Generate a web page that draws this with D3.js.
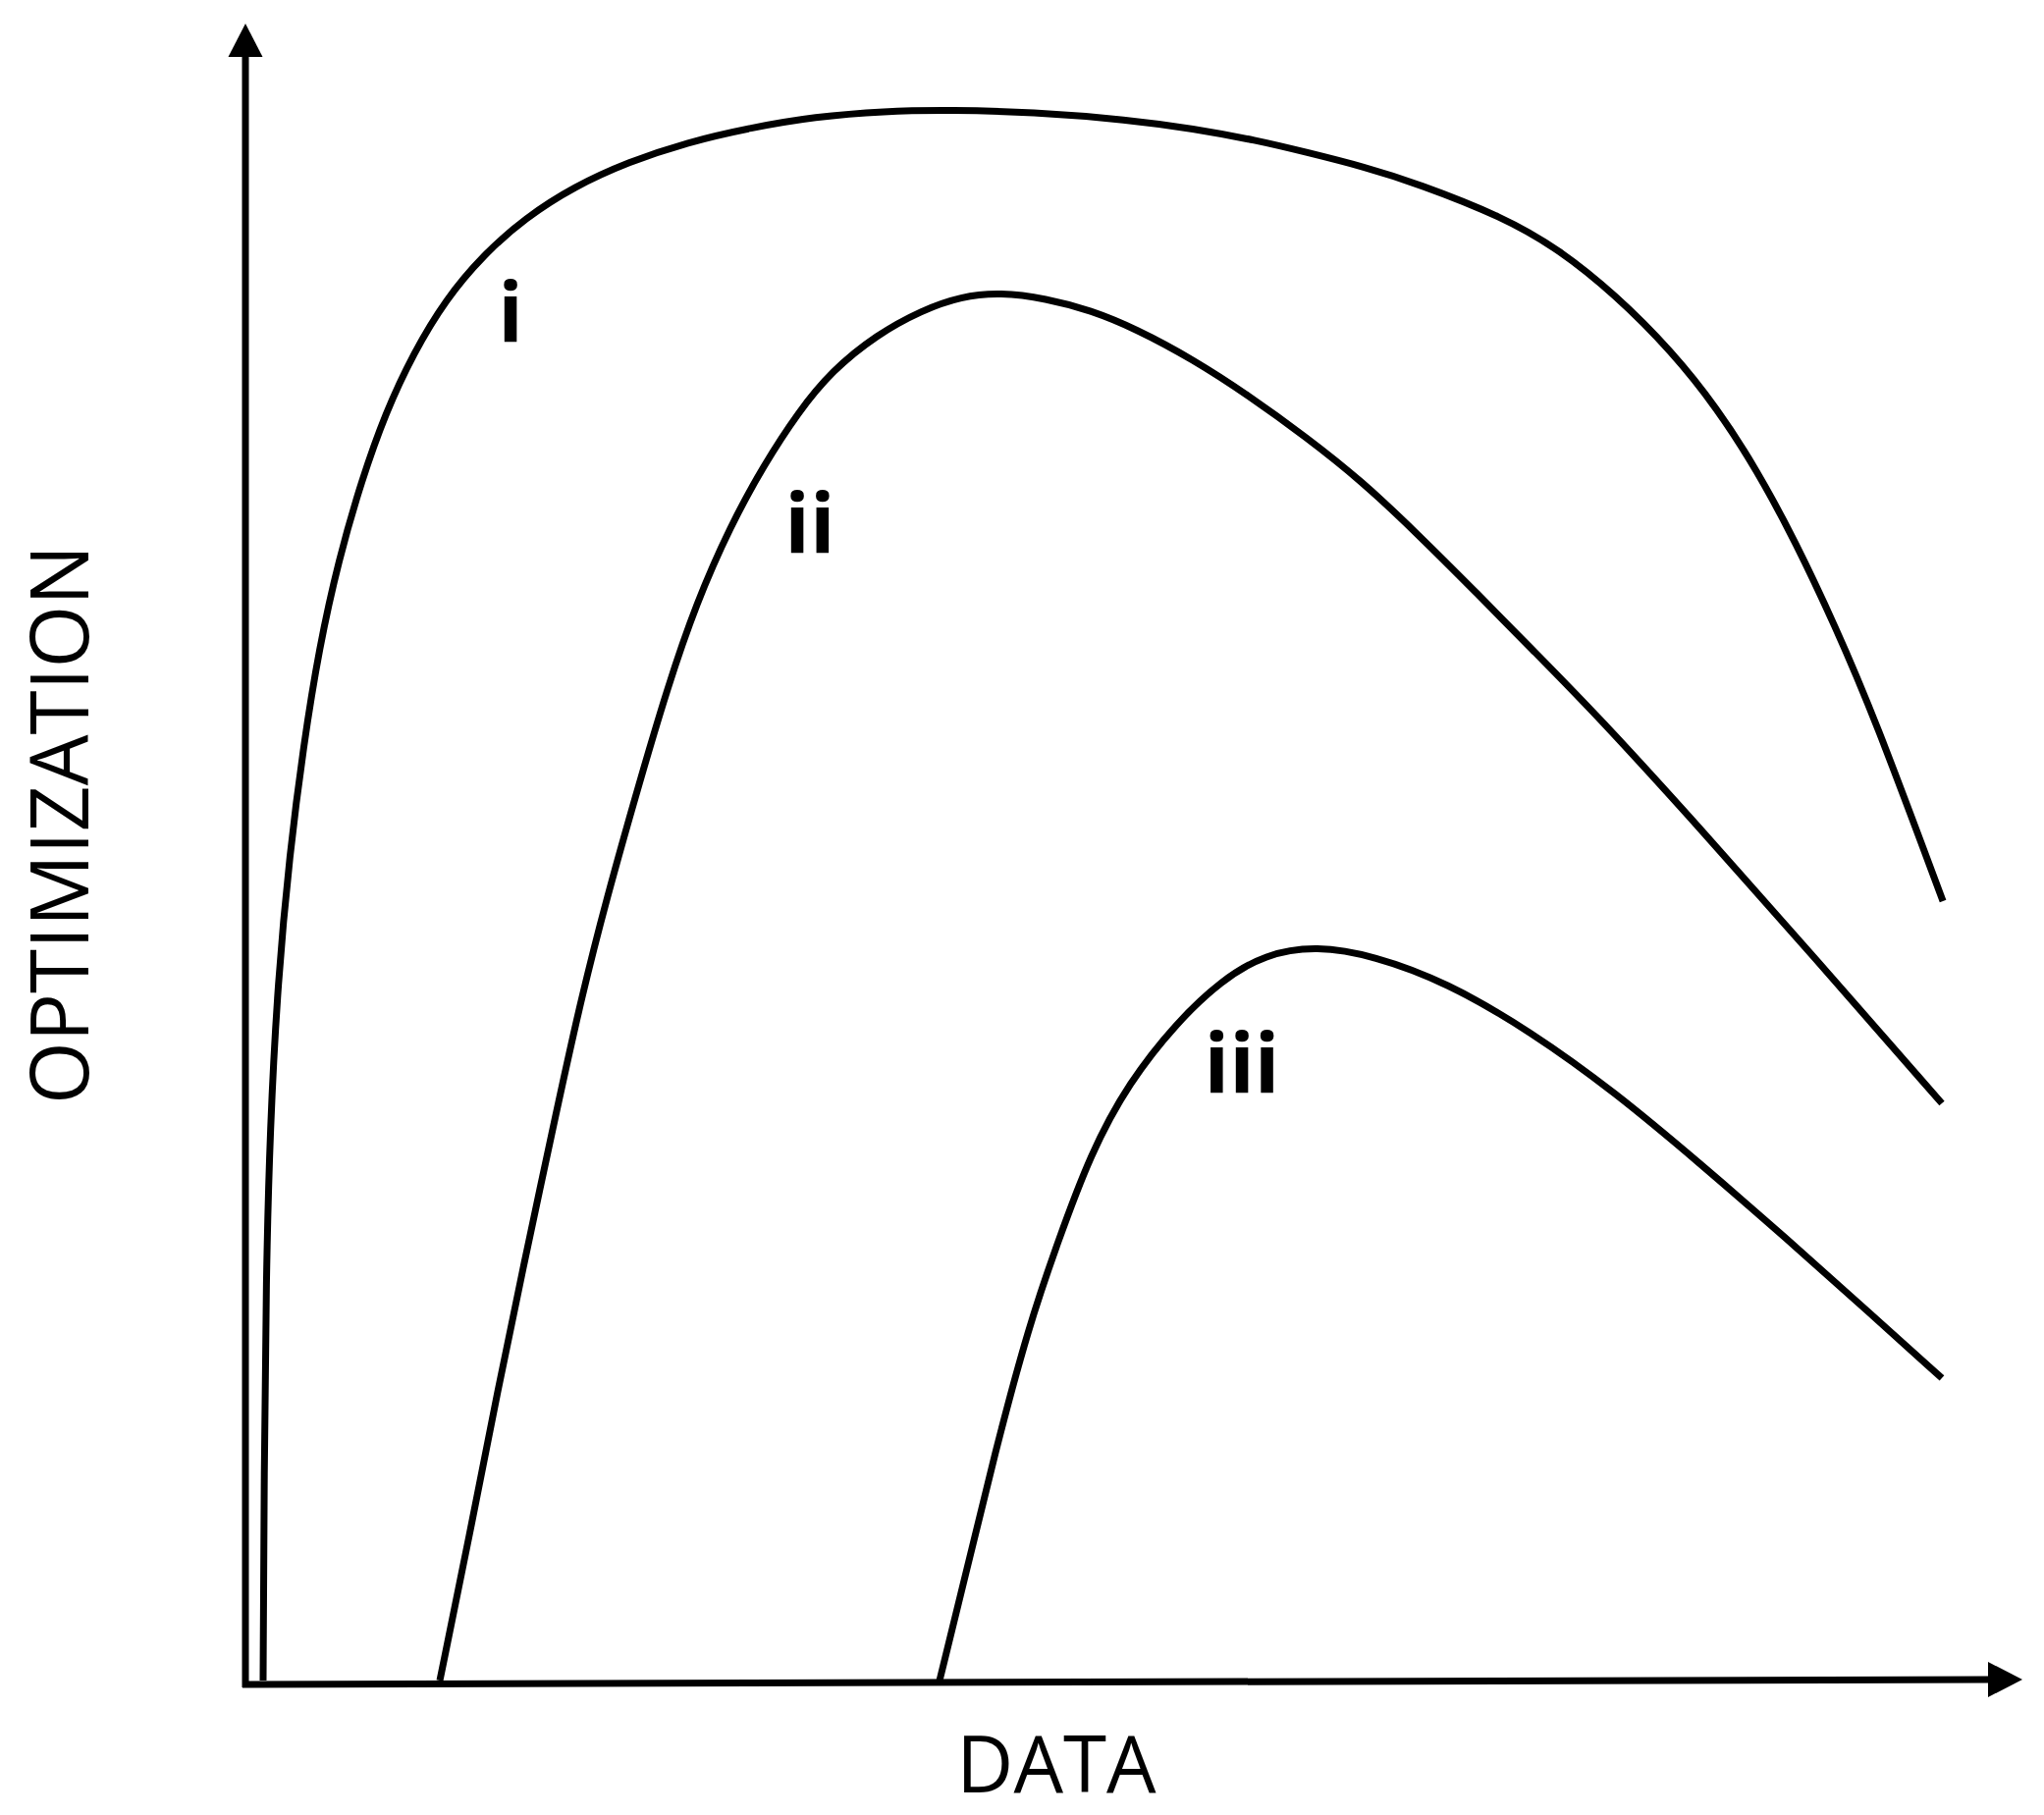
<!DOCTYPE html>
<html>
<head>
<meta charset="utf-8">
<style>
  body { margin: 0; background: #fff; }
  text { font-family: "Open Sans", sans-serif; fill: #000; }
</style>
</head>
<body>
<script src="https://cdn.jsdelivr.net/npm/d3@7"></script>
<svg id="chart" width="2082" height="1849"></svg>
<script>
// curve values (x = data, y = optimization, both 0..100)
const curveI = [
  [1.0, 0.24], [1.06, 12.89], [1.17, 24.82], [1.39, 33.77], [1.83, 42.72], [2.5, 50.48],
  [3.28, 57.04], [4.17, 63.01], [5.28, 68.38], [6.56, 73.15], [7.94, 77.33], [9.5, 80.91],
  [11.33, 84.19], [13.44, 86.87], [15.83, 89.14], [18.61, 91.05], [21.67, 92.54],
  [25.0, 93.74], [28.61, 94.63], [32.22, 95.29], [36.11, 95.64], [40.0, 95.7],
  [44.44, 95.58], [50.0, 95.11], [53.61, 94.57], [57.22, 93.86], [60.0, 93.14],
  [63.33, 92.24], [66.33, 91.23], [71.17, 89.2], [74.33, 87.23], [77.5, 84.49],
  [80.72, 81.03], [83.28, 77.57], [85.5, 73.87], [87.72, 69.45], [89.94, 64.38],
  [92.17, 58.83], [96.06, 47.61]
];
const curveII = [
  [11.0, 0.24], [12.67, 9.01], [14.28, 17.9], [15.78, 25.66], [17.33, 33.47],
  [18.89, 41.23], [20.44, 47.79], [22.28, 54.77], [23.89, 60.62], [25.5, 65.69],
  [27.44, 70.41], [29.33, 74.11], [31.28, 77.33], [33.17, 79.83], [35.72, 82.04],
  [38.28, 83.53], [40.5, 84.37], [42.72, 84.61], [45.28, 84.25], [47.83, 83.53],
  [50.39, 82.4], [53.61, 80.55], [56.78, 78.34], [60.0, 75.84], [63.17, 73.15],
  [66.33, 69.93], [69.56, 66.47], [72.72, 63.01], [76.56, 58.83], [82.28, 52.09],
  [88.67, 44.33], [96.0, 35.32]
];
const curveIII = [
  [39.28, 0.24], [40.83, 7.0], [42.39, 14.0], [44.33, 21.8], [45.94, 26.8],
  [47.83, 32.3], [50.0, 36.6], [52.67, 40.2], [55.22, 42.8], [57.72, 44.4],
  [60.61, 44.9], [63.83, 44.3], [67.94, 42.7], [72.72, 39.7], [77.5, 36.0],
  [82.28, 31.7], [87.11, 27.2], [91.89, 22.6], [96.0, 18.62]
];
const labelNames = ['i', 'ii', 'iii'];
const labelX = [15.0, 31.94, 56.39];
const labelY = [81.6, 68.8, 36.0];

const svg = d3.select('#chart');
const xScale = d3.scaleLinear().domain([0, 100]).range([250, 2050]);
const yScale = d3.scaleLinear().domain([0, 100]).range([1716, 40]);

// axes with arrow heads
const x0 = xScale(0), y0 = yScale(0);
svg.append('line')
   .attr('x1', x0).attr('y1', y0 + 3)
   .attr('x2', x0).attr('y2', 56)
   .attr('stroke', '#000').attr('stroke-width', 7);
svg.append('path')
   .attr('d', `M${x0},24 L${x0 + 17.5},58 L${x0 - 17.5},58 Z`)
   .attr('fill', '#000');

svg.append('line')
   .attr('x1', x0 - 3).attr('y1', y0)
   .attr('x2', 2027).attr('y2', y0 - 5)
   .attr('stroke', '#000').attr('stroke-width', 7);
svg.append('path')
   .attr('d', `M2060,${y0 - 5} L2025,${y0 - 23} L2025,${y0 + 13} Z`)
   .attr('fill', '#000');

// curves (b-spline smooths the hand-read points)
const line = d3.line()
  .x(d => xScale(d[0]))
  .y(d => yScale(d[1]))
  .curve(d3.curveBasis);

svg.append('g')
   .selectAll('path')
   .data([curveI, curveII, curveIII])
   .enter()
   .append('path')
   .attr('d', line)
   .attr('fill', 'none')
   .attr('stroke', '#000')
   .attr('stroke-width', 7);

// curve labels
svg.append('g')
   .selectAll('text')
   .data(labelNames)
   .enter()
   .append('text')
   .attr('x', (d, i) => xScale(labelX[i]))
   .attr('y', (d, i) => yScale(labelY[i]))
   .attr('text-anchor', 'middle')
   .attr('font-weight', 'bold')
   .attr('font-size', '84px')
   .text(d => d);

// axis titles
svg.append('text')
   .text('DATA')
   .attr('x', 1076).attr('y', 1826)
   .attr('text-anchor', 'middle')
   .attr('font-size', '80px');

svg.append('text')
   .text('OPTIMIZATION')
   .attr('transform', 'translate(90, 840) rotate(-90)')
   .attr('text-anchor', 'middle')
   .attr('font-size', '82px');
</script>
</body>
</html>
